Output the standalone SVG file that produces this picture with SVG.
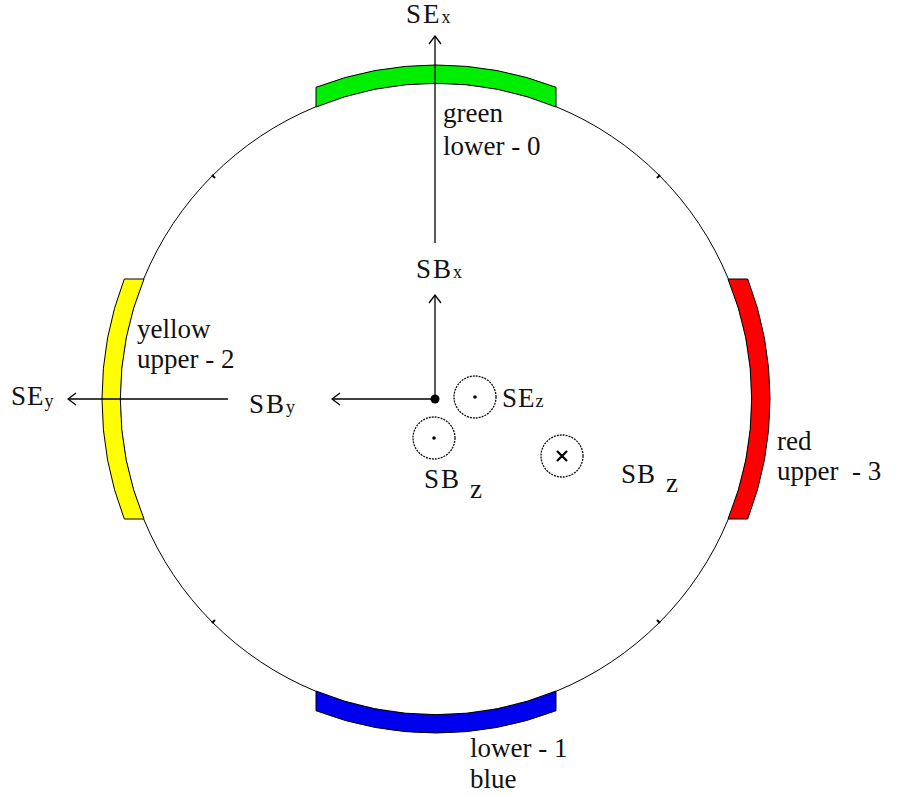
<svg xmlns="http://www.w3.org/2000/svg" width="900" height="796" viewBox="0 0 900 796">
<style>
text{font-family:"Liberation Serif","Times New Roman",serif;fill:#111}
.lbl{font-size:27px}
.ax{font-size:27px}
.sub{font-size:18px}
.band{stroke:#000;stroke-width:1}
.line{stroke:#000;stroke-width:1.3;fill:none}
.ring{fill:none;stroke:#111;stroke-width:1.3;stroke-dasharray:2 1}
</style>
<defs>
<marker id="arr" markerWidth="10" markerHeight="14" refX="9" refY="7" orient="auto" markerUnits="userSpaceOnUse">
<path d="M1,1 L9,7 L1,13" fill="none" stroke="#000" stroke-width="1.3"/>
</marker>
</defs>
<rect width="900" height="796" fill="#fff"/>
<g id="ring-body">
<circle cx="436" cy="399" r="316" fill="none" stroke="#000" stroke-width="1"/>
<path d="M212,175 l3,3 M660,175 l-3,3 M212,623 l3,-3 M660,623 l-3,-3" stroke="#000" stroke-width="2"/>
</g>
<g id="green-band">
<path class="band" fill="#00ee00" d="M316,107 L316,87.3 A334,334 0 0 1 556,87.3 L556,107 A316,316 0 0 0 316,107 Z"/>
<text class="lbl"><tspan x="443" y="122">green</tspan><tspan x="443" y="155">lower - 0</tspan></text>
</g>
<g id="blue-band">
<path class="band" fill="#0000ee" d="M316,691 L316,710.7 A334,334 0 0 0 556,710.7 L556,691 A316,316 0 0 1 316,691 Z"/>
<text class="lbl"><tspan x="470" y="757">lower - 1</tspan><tspan x="470" y="788">blue</tspan></text>
</g>
<g id="yellow-band">
<path class="band" fill="#ffff00" d="M144,279 L124.3,279 A334,334 0 0 0 124.3,519 L144,519 A316,316 0 0 1 144,279 Z"/>
<text class="lbl"><tspan x="137" y="338">yellow</tspan><tspan x="137" y="368">upper - 2</tspan></text>
</g>
<g id="red-band">
<path class="band" fill="#ff0000" d="M728,279 L747.7,279 A334,334 0 0 1 747.7,519 L728,519 A316,316 0 0 0 728,279 Z"/>
<text class="lbl" xml:space="preserve"><tspan x="777" y="450">red</tspan><tspan x="777" y="480">upper  - 3</tspan></text>
</g>
<g id="connectors">
<line class="line" x1="435" y1="243" x2="435" y2="36" marker-end="url(#arr)"/>
<line class="line" x1="435" y1="399" x2="435" y2="295" marker-end="url(#arr)"/>
<line class="line" x1="435" y1="399" x2="332" y2="399" marker-end="url(#arr)"/>
<line class="line" x1="228" y1="399" x2="68" y2="399" marker-end="url(#arr)"/>
</g>
<g id="origin">
<circle cx="435" cy="399" r="4.5" fill="#000"/>
</g>
<g id="SEx">
<text class="ax" x="406" y="23" style="letter-spacing:2px">SE<tspan class="sub">x</tspan></text>
</g>
<g id="SBx">
<text class="ax" x="416" y="278" style="letter-spacing:2px">SB<tspan class="sub">x</tspan></text>
</g>
<g id="SEy">
<text class="ax" x="11" y="405" style="letter-spacing:1px">SE<tspan class="sub" dy="2">y</tspan></text>
</g>
<g id="SBy">
<text class="ax" x="249" y="413" style="letter-spacing:2px">SB<tspan class="sub">y</tspan></text>
</g>
<g id="SEz">
<circle class="ring" cx="475" cy="397" r="21"/>
<circle cx="475" cy="397" r="1.8" fill="#000"/>
<text class="ax" x="502" y="407" style="letter-spacing:1px">SE<tspan class="sub">z</tspan></text>
</g>
<g id="SBz-left">
<circle class="ring" cx="434" cy="438" r="21"/>
<circle cx="434" cy="438" r="1.8" fill="#000"/>
<text class="ax" x="424" y="488" style="letter-spacing:2px">SB<tspan dx="9" dy="10">z</tspan></text>
</g>
<g id="SBz-right">
<circle class="ring" cx="562" cy="456" r="21"/>
<path d="M557,451 L567,461 M567,451 L557,461" stroke="#000" stroke-width="2.2"/>
<text class="ax" x="621" y="483" style="letter-spacing:1px">SB<tspan dx="10" dy="9">z</tspan></text>
</g>
</svg>
